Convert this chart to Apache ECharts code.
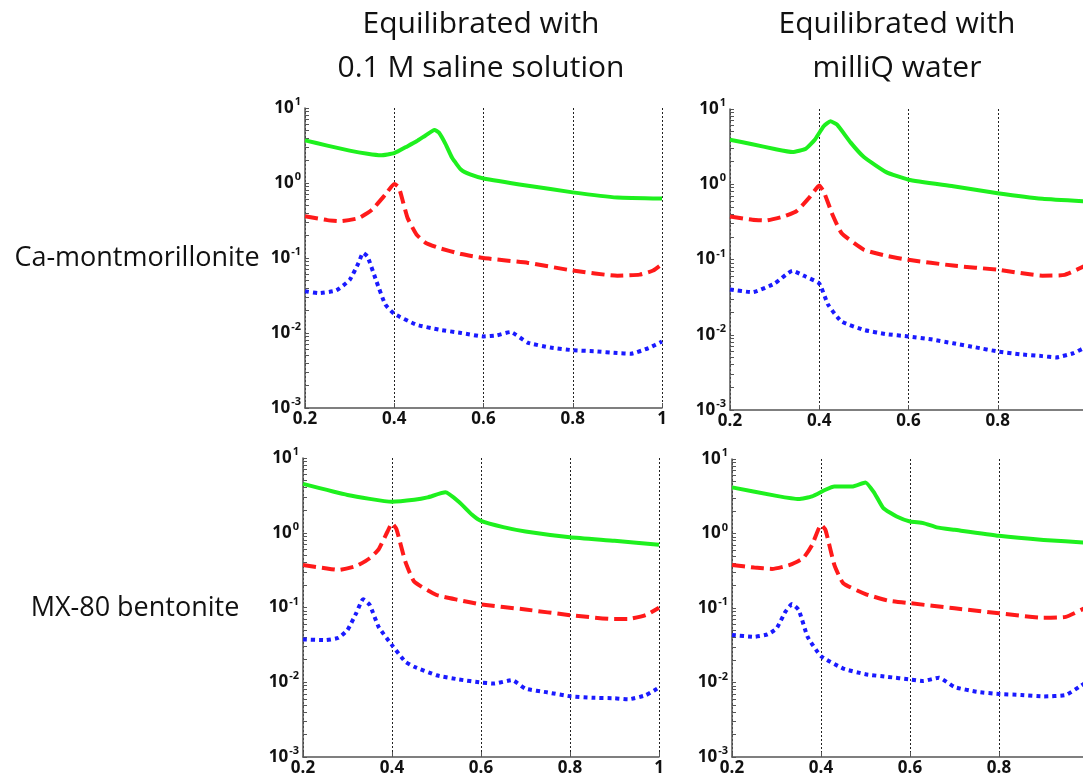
<!DOCTYPE html>
<html>
<head>
<meta charset="utf-8">
<title>Equilibrated clay spectra</title>
<script src="https://cdn.jsdelivr.net/npm/echarts@6/dist/echarts.min.js"></script>
<style>
  html, body { margin: 0; padding: 0; background: #fff; }
  #chart { width: 1083px; height: 778px; }
</style>
</head>
<body>
<div id="chart"></div>
<script>
// column / row headings
const colTitles = [["Equilibrated with", "0.1 M saline solution"], ["Equilibrated with", "milliQ water"]];
const rowTitles = ["Ca-montmorillonite", "MX-80 bentonite"];

// x axis ticks
const xMin = 0.2;
const xMax = 1.0;
const xStep = 0.2;

// y axis decades (labels) and the log minor ticks between them
const yDecades = [0.001, 0.01, 0.1, 1, 10];
const yTicks = [];
yDecades.forEach((d, i) => {
  if (i === yDecades.length - 1) { yTicks.push(d); return; }
  for (let m = 1; m <= 9; m++) yTicks.push(+(d * m).toPrecision(3));
});

// panel 1: Ca-montmorillonite, saline
const p1GreenX = [0.2, 0.25, 0.3, 0.34, 0.37, 0.4, 0.43, 0.45, 0.47, 0.49, 0.5, 0.515, 0.53, 0.55, 0.57, 0.6, 0.7, 0.8, 0.9, 1.0];
const p1GreenY = [3.7, 3.15, 2.7, 2.45, 2.34, 2.5, 3.1, 3.6, 4.3, 5.1, 4.7, 3.3, 2.15, 1.5, 1.3, 1.15, 0.92, 0.75, 0.64, 0.62];
const p1RedX = [0.2, 0.25, 0.28, 0.32, 0.35, 0.38, 0.4, 0.41, 0.42, 0.43, 0.45, 0.47, 0.5, 0.55, 0.6, 0.7, 0.8, 0.9, 0.95, 0.98, 1.0];
const p1RedY = [0.36, 0.32, 0.31, 0.34, 0.44, 0.70, 0.97, 0.88, 0.55, 0.34, 0.205, 0.16, 0.136, 0.113, 0.100, 0.086, 0.068, 0.058, 0.060, 0.068, 0.083];
const p1BlueX = [0.2, 0.23, 0.27, 0.3, 0.32, 0.33, 0.34, 0.36, 0.38, 0.4, 0.45, 0.5, 0.55, 0.6, 0.63, 0.66, 0.7, 0.75, 0.8, 0.85, 0.9, 0.93, 0.97, 1.0];
const p1BlueY = [0.036, 0.034, 0.037, 0.051, 0.086, 0.117, 0.105, 0.049, 0.024, 0.018, 0.0129, 0.0111, 0.0100, 0.0090, 0.0093, 0.0103, 0.0074, 0.0064, 0.0059, 0.0057, 0.0054, 0.0053, 0.0063, 0.0077];

// panel 2: Ca-montmorillonite, milliQ
const p2GreenX = [0.2, 0.25, 0.3, 0.34, 0.37, 0.39, 0.41, 0.425, 0.44, 0.47, 0.5, 0.55, 0.6, 0.7, 0.8, 0.9, 1.0];
const p2GreenY = [3.9, 3.4, 2.94, 2.68, 2.97, 3.9, 5.9, 6.85, 6.2, 3.6, 2.3, 1.45, 1.15, 0.94, 0.76, 0.64, 0.59];
const p2RedX = [0.2, 0.25, 0.28, 0.32, 0.35, 0.38, 0.4, 0.41, 0.43, 0.45, 0.5, 0.55, 0.6, 0.7, 0.8, 0.9, 0.95, 1.0];
const p2RedY = [0.373, 0.337, 0.33, 0.373, 0.444, 0.69, 0.96, 0.80, 0.39, 0.224, 0.135, 0.112, 0.099, 0.083, 0.073, 0.061, 0.0625, 0.085];
const p2BlueX = [0.2, 0.25, 0.3, 0.34, 0.37, 0.4, 0.42, 0.45, 0.5, 0.55, 0.6, 0.65, 0.7, 0.75, 0.8, 0.85, 0.9, 0.93, 0.97, 1.0];
const p2BlueY = [0.040, 0.0367, 0.048, 0.0707, 0.059, 0.048, 0.025, 0.015, 0.0116, 0.0102, 0.0095, 0.0087, 0.0077, 0.0068, 0.0060, 0.0055, 0.0052, 0.0050, 0.0057, 0.0070];

// panel 3: MX-80 bentonite, saline
const p3GreenX = [0.2, 0.3, 0.4, 0.45, 0.48, 0.52, 0.55, 0.58, 0.6, 0.65, 0.7, 0.8, 0.9, 1.0];
const p3GreenY = [4.5, 3.2, 2.6, 2.76, 2.97, 3.47, 2.6, 1.74, 1.44, 1.19, 1.04, 0.87, 0.78, 0.69];
const p3RedX = [0.2, 0.25, 0.28, 0.32, 0.35, 0.37, 0.39, 0.4, 0.41, 0.43, 0.45, 0.5, 0.55, 0.6, 0.7, 0.8, 0.9, 0.93, 0.97, 1.0];
const p3RedY = [0.37, 0.335, 0.318, 0.36, 0.456, 0.60, 1.04, 1.34, 1.12, 0.41, 0.222, 0.147, 0.126, 0.110, 0.094, 0.079, 0.070, 0.070, 0.079, 0.0995];
const p3BlueX = [0.2, 0.25, 0.28, 0.3, 0.32, 0.335, 0.35, 0.37, 0.4, 0.43, 0.45, 0.5, 0.55, 0.6, 0.63, 0.67, 0.7, 0.75, 0.8, 0.85, 0.9, 0.93, 0.97, 1.0];
const p3BlueY = [0.0374, 0.0366, 0.0394, 0.050, 0.085, 0.129, 0.108, 0.055, 0.0314, 0.0188, 0.0161, 0.0124, 0.0109, 0.0099, 0.0096, 0.0107, 0.0082, 0.0073, 0.0065, 0.0062, 0.0061, 0.0059, 0.0067, 0.0085];

// panel 4: MX-80 bentonite, milliQ
const p4GreenX = [0.2, 0.3, 0.35, 0.38, 0.41, 0.43, 0.47, 0.5, 0.52, 0.54, 0.57, 0.6, 0.63, 0.66, 0.7, 0.8, 0.9, 1.0];
const p4GreenY = [4.16, 3.2, 2.9, 3.15, 3.87, 4.28, 4.28, 4.85, 3.49, 2.19, 1.69, 1.45, 1.38, 1.21, 1.12, 0.93, 0.82, 0.75];
const p4RedX = [0.2, 0.25, 0.29, 0.33, 0.36, 0.38, 0.4, 0.41, 0.43, 0.45, 0.5, 0.55, 0.6, 0.7, 0.8, 0.9, 0.95, 1.0];
const p4RedY = [0.379, 0.349, 0.335, 0.379, 0.466, 0.70, 1.31, 1.12, 0.379, 0.215, 0.154, 0.126, 0.116, 0.099, 0.085, 0.074, 0.076, 0.105];
const p4BlueX = [0.2, 0.25, 0.28, 0.3, 0.32, 0.335, 0.35, 0.37, 0.4, 0.45, 0.5, 0.55, 0.6, 0.63, 0.665, 0.7, 0.75, 0.8, 0.85, 0.9, 0.95, 0.98, 1.0];
const p4BlueY = [0.0434, 0.0411, 0.0442, 0.053, 0.089, 0.113, 0.094, 0.041, 0.0226, 0.0154, 0.0129, 0.0119, 0.0110, 0.0105, 0.0116, 0.0087, 0.0075, 0.0070, 0.0068, 0.0065, 0.0068, 0.0087, 0.0105];

const panels = [
  { green: [p1GreenX, p1GreenY], red: [p1RedX, p1RedY], blue: [p1BlueX, p1BlueY] },
  { green: [p2GreenX, p2GreenY], red: [p2RedX, p2RedY], blue: [p2BlueX, p2BlueY] },
  { green: [p3GreenX, p3GreenY], red: [p3RedX, p3RedY], blue: [p3BlueX, p3BlueY] },
  { green: [p4GreenX, p4GreenY], red: [p4RedX, p4RedY], blue: [p4BlueX, p4BlueY] }
];

// plot boxes (px), the right column runs past the window edge like the original
const grids = [
  { left: 305, top: 108, width: 357, height: 300 },
  { left: 730, top: 109, width: 357, height: 301 },
  { left: 303, top: 458, width: 356, height: 299 },
  { left: 732, top: 459, width: 356, height: 298 }
];

const lineStyles = {
  green: { color: "#1ef01e", width: 4, type: "solid" },
  red: { color: "#ff1a1a", width: 4, type: [13, 6] },
  blue: { color: "#1a1aff", width: 4, type: [4, 4] }
};

const tickFont = "'Open Sans', sans-serif";
const textFont = "'Open Sans', sans-serif";

const zip = (xs, ys) => xs.map((x, i) => [x, ys[i]]);

const buildSeries = () => {
  const out = [];
  panels.forEach((p, i) => {
    ["green", "red", "blue"].forEach((key) => {
      out.push({
        type: "line",
        xAxisIndex: i,
        yAxisIndex: i,
        data: zip(p[key][0], p[key][1]),
        showSymbol: false,
        smooth: 0.15,
        lineStyle: { ...lineStyles[key], cap: "butt", join: "round" },
        emphasis: { disabled: true },
        z: key === "green" ? 3 : 2
      });
    });
  });
  return out;
};

const buildXAxes = () =>
  grids.map((g, i) => ({
    type: "value",
    gridIndex: i,
    min: xMin,
    max: xMax,
    interval: xStep,
    axisLine: { show: true, onZero: false, lineStyle: { color: "#555", width: 1.5 } },
    axisTick: { show: true, inside: true, length: 5, lineStyle: { color: "#555" } },
    axisLabel: {
      color: "#111",
      fontFamily: tickFont,
      fontWeight: "bold",
      fontSize: 17,
      margin: 3
    },
    splitLine: { show: true, lineStyle: { type: [2, 2], color: "#222", width: 1 } }
  }));

const buildYAxes = () =>
  grids.map((g, i) => ({
    type: "log",
    logBase: 10,
    gridIndex: i,
    min: 0.001,
    max: 10,
    axisLine: { show: true, onZero: false, lineStyle: { color: "#555", width: 1.5 } },
    axisTick: { show: true, inside: true, length: 4, customValues: yTicks, lineStyle: { color: "#555" } },
    splitLine: { show: false },
    axisLabel: {
      margin: 4,
      customValues: yDecades,
      formatter: (v) => "{b|10}{e|" + Math.round(Math.log10(v)) + "}",
      rich: {
        b: { fontFamily: tickFont, fontWeight: "bold", fontSize: 17, color: "#111" },
        e: { fontFamily: tickFont, fontWeight: "bold", fontSize: 11, color: "#111", padding: [0, 0, 12, 1] }
      }
    }
  }));

const buildText = () => {
  const items = [];
  const colCenters = [481, 897];
  colTitles.forEach((lines, c) => {
    lines.forEach((line, k) => {
      items.push({
        type: "text",
        x: colCenters[c],
        y: 24 + k * 44,
        style: {
          text: line,
          fill: "#111",
          font: "30px " + textFont,
          textAlign: "center",
          textVerticalAlign: "middle"
        }
      });
    });
  });
  const rowCenters = [[137, 258], [135, 608]];
  rowTitles.forEach((label, r) => {
    items.push({
      type: "text",
      x: rowCenters[r][0],
      y: rowCenters[r][1],
      style: {
        text: label,
        fill: "#111",
        font: "27px " + textFont,
        textAlign: "center",
        textVerticalAlign: "middle"
      }
    });
  });
  return items;
};

const chart = echarts.init(document.getElementById("chart"));
chart.setOption({
  animation: false,
  backgroundColor: "#fff",
  grid: grids.map((g) => ({ ...g, containLabel: false, outerBoundsMode: "none" })),
  xAxis: buildXAxes(),
  yAxis: buildYAxes(),
  series: buildSeries(),
  graphic: buildText()
});
</script>
</body>
</html>
